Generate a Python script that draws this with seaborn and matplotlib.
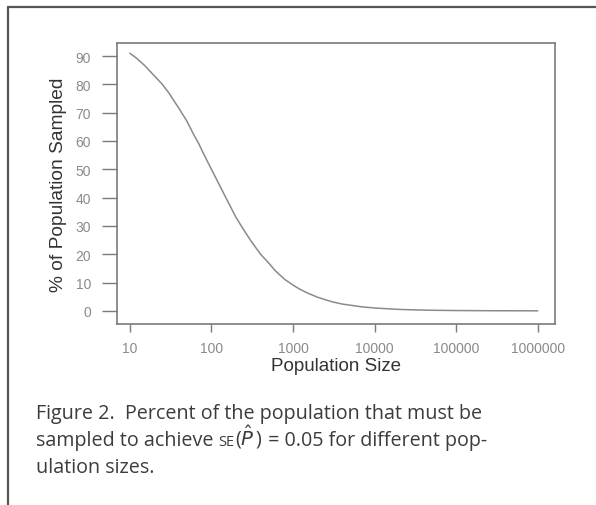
import numpy as np
import pandas as pd
import matplotlib
matplotlib.use("Agg")
import matplotlib.pyplot as plt
import seaborn as sns
from matplotlib.lines import Line2D

# values
pop_size = [10, 12, 15, 20, 25, 30, 40, 50, 60, 70, 80, 100, 120, 150, 200,
            250, 300, 400, 500, 600, 700, 800, 1000, 1200, 1500, 2000, 3000,
            4000, 5000, 7000, 10000, 20000, 30000, 50000, 100000, 300000, 1000000]
pct_sampled = [91, 89.3, 86.8, 83, 80, 77, 71.5, 67, 62.5, 59, 55.5, 50, 45.5, 40, 33,
               28.5, 25, 20, 17, 14.3, 12.5, 11, 9.1, 7.7, 6.3, 4.8, 3.2,
               2.4, 2.0, 1.4, 1.0, 0.5, 0.35, 0.2, 0.1, 0.03, 0.0]
x_ticks = [10, 100, 1000, 10000, 100000, 1000000]
x_ticklabels = ["10", "100", "1000", "10000", "100000", "1000000"]
y_ticks = [0, 10, 20, 30, 40, 50, 60, 70, 80, 90]

df = pd.DataFrame({"Population Size": pop_size, "% Sampled": pct_sampled})

sns.set_style("ticks")
plt.rcParams["font.family"] = ["Liberation Sans", "DejaVu Sans"]

fig = plt.figure(figsize=(5.96, 5.06), dpi=100)
ax = fig.add_axes([0.196, 0.358, 0.735, 0.555])

sns.lineplot(data=df, x="Population Size", y="% Sampled", ax=ax,
             color="#8a8a8a", linewidth=1.1)

ax.set_xscale("log")
ax.set_xlim(10 ** 0.84, 10 ** 6.21)
ax.set_ylim(-4.6, 94.6)
ax.set_xticks(x_ticks)
ax.set_xticklabels(x_ticklabels)
ax.minorticks_off()
ax.set_yticks(y_ticks)

for s in ax.spines.values():
    s.set_visible(True)
    s.set_color("#7a7a7a")
    s.set_linewidth(1.2)

ax.tick_params(axis="both", direction="out", width=1.0,
               bottom=True, left=True, top=False, right=False,
               color="#7a7a7a", labelcolor="#8a8a8a", labelsize=10)
ax.tick_params(axis="x", length=6, pad=6)
ax.tick_params(axis="y", length=10.5, pad=8)

ax.set_xlabel("Population Size", fontsize=13.5, color="#333333", labelpad=2)
ax.set_ylabel("% of Population Sampled", fontsize=13.8, color="#333333", labelpad=6)

# outer frame of the scanned figure
fig.add_artist(Line2D([8 / 596, 1.0], [1 - 8 / 506, 1 - 8 / 506],
                      transform=fig.transFigure, color="#555555", linewidth=1.6))
fig.add_artist(Line2D([8 / 596, 8 / 596], [0.0, 1 - 8 / 506],
                      transform=fig.transFigure, color="#555555", linewidth=1.6))

# caption, second line built from pieces so "SE" can be in small caps
cap_font = ["Open Sans", "DejaVu Sans"]
cap_kw = dict(color="#3c3c3c", family=cap_font, va="baseline")
x0 = 36 / 596
base = [1 - 419 / 506, 1 - 446 / 506, 1 - 473 / 506]

fig.text(x0, base[0], "Figure 2.  Percent of the population that must be",
         fontsize=14.2, **cap_kw)
fig.text(x0, base[2], "ulation sizes.", fontsize=14.2, **cap_kw)

pieces = [("sampled to achieve ", 14.2), ("SE", 10.5), (r"($\hat{P}\,$)", 14.2),
          (" = 0.05 for different pop-", 14.2)]
renderer = fig.canvas.get_renderer()
x = x0
for txt, size in pieces:
    t = fig.text(x, base[1], txt, fontsize=size, **cap_kw)
    bb = t.get_window_extent(renderer=renderer)
    x = bb.x1 / fig.bbox.width

fig.savefig("out.png", dpi=100)
